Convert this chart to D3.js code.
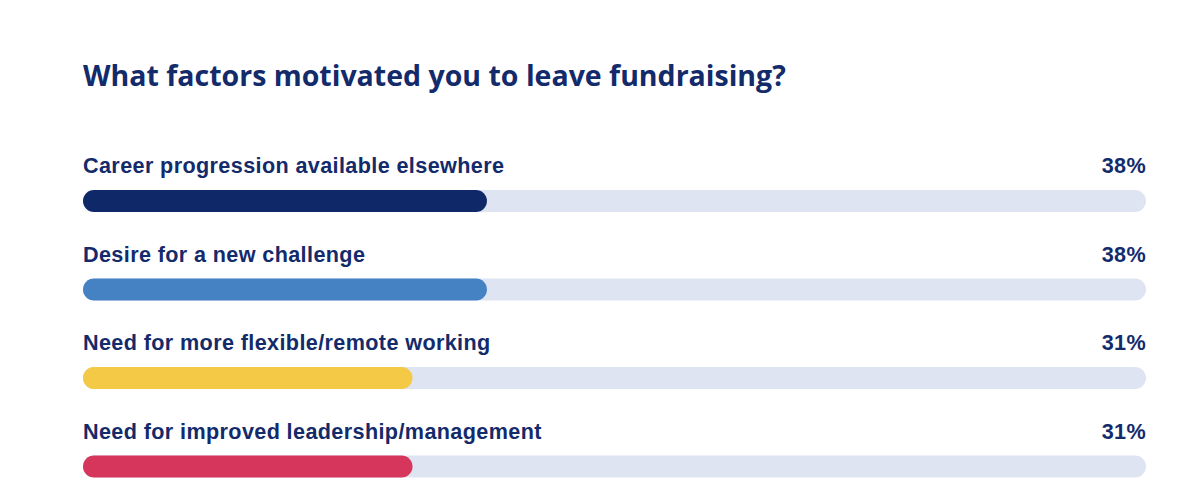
<!DOCTYPE html>
<html>
<head>
<meta charset="utf-8">
<script src="https://cdn.jsdelivr.net/npm/d3@7.9.0/dist/d3.min.js"></script>
<style>
  body { margin: 0; background: #fff; }
  svg text { font-weight: 700; fill: #132a6b; }
  .title { font-family: "Open Sans", Lato, sans-serif; }
  .label { font-family: "Liberation Sans", Arial, sans-serif; letter-spacing: 0.38px; }
</style>
</head>
<body>
<svg id="chart" width="1200" height="500"></svg>
<script>
const title = 'What factors motivated you to leave fundraising?';
const factors = [
  'Career progression available elsewhere',
  'Desire for a new challenge',
  'Need for more flexible/remote working',
  'Need for improved leadership/management',
];
const shares = [38, 38, 31, 31];
const barColors = ['#0f2868', '#4582c4', '#f4c945', '#d6365c'];

const svg = d3.select('#chart');
const left = 83;
const right = 1146;
const barH = 22;

const x = d3.scaleLinear().domain([0, 100]).range([left, right]);
const y = d3.scaleBand().domain(factors).range([135, 489]).paddingInner(0);

svg.append('text')
  .attr('class', 'title')
  .attr('x', left)
  .attr('y', 86)
  .attr('font-size', 28.5)
  .text(title);

const rows = svg.selectAll('g.row')
  .data(factors)
  .join('g')
  .attr('class', 'row')
  .attr('transform', (d) => `translate(0,${y(d)})`);

rows.append('text')
  .attr('class', 'label')
  .attr('x', left)
  .attr('y', 38)
  .attr('font-size', 21.6)
  .text((d) => d);

rows.append('text')
  .attr('class', 'label')
  .attr('x', right)
  .attr('y', 38)
  .attr('font-size', 21.6)
  .attr('text-anchor', 'end')
  .text((d, i) => `${shares[i]}%`);

rows.append('rect')
  .attr('x', x(0))
  .attr('y', 55)
  .attr('width', x(100) - x(0))
  .attr('height', barH)
  .attr('rx', barH / 2)
  .attr('fill', '#dfe4f2');

rows.append('rect')
  .attr('x', x(0))
  .attr('y', 55)
  .attr('width', (d, i) => x(shares[i]) - x(0))
  .attr('height', barH)
  .attr('rx', barH / 2)
  .attr('fill', (d, i) => barColors[i]);
</script>
</body>
</html>
